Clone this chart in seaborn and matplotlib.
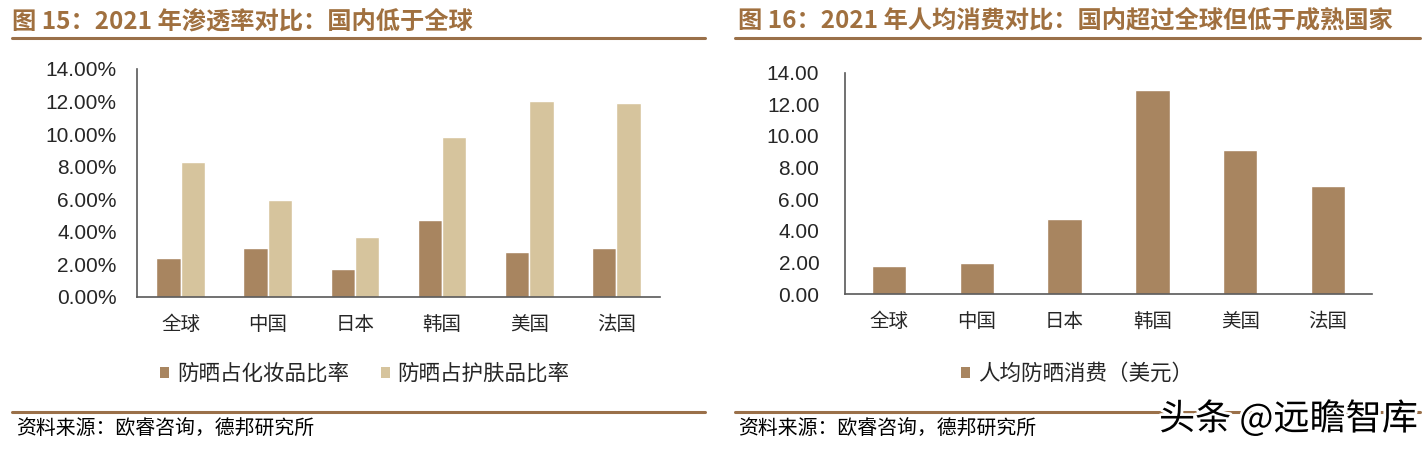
import matplotlib
matplotlib.use("Agg")
import matplotlib.pyplot as plt
import matplotlib.patheffects as pe
from matplotlib.lines import Line2D
from matplotlib.patches import Patch
import seaborn as sns
import pandas as pd

# ---------------- data ----------------
countries = ["全球", "中国", "日本", "韩国", "美国", "法国"]
series_names = ["防晒占化妆品比率", "防晒占护肤品比率"]
cosmetics_share = [2.40, 3.03, 1.72, 4.75, 2.78, 3.03]      # %
skincare_share = [8.31, 5.96, 3.66, 9.83, 12.02, 11.90]      # %
per_capita_name = "人均防晒消费（美元）"
per_capita = [1.77, 1.94, 4.75, 12.90, 9.11, 6.86]           # USD
left_ticks = [0, 2, 4, 6, 8, 10, 12, 14]
right_ticks = [0, 2, 4, 6, 8, 10, 12, 14]
title_left = "图 15：2021 年渗透率对比：国内低于全球"
title_right = "图 16：2021 年人均消费对比：国内超过全球但低于成熟国家"
source_text = "资料来源：欧睿咨询，德邦研究所"
watermark = "头条 @远瞻智库"

# ---------------- style ----------------
sns.set_style("white")
CJK = ["Noto Sans CJK SC", "DejaVu Sans"]
NUM = ["Liberation Sans", "DejaVu Sans"]
plt.rcParams["font.family"] = CJK

DARK = "#a88560"
LIGHT = "#d6c49d"
TITLE_C = "#a0703f"
LINE_C = "#9a7049"
AXIS_C = "#595959"

W, H = 1428, 450
fig = plt.figure(figsize=(W / 100, H / 100), dpi=100)

def px_axes(x0, x1, ytop, ybot):
    return fig.add_axes([x0 / W, 1 - ybot / H, (x1 - x0) / W, (ybot - ytop) / H])

axL = px_axes(137, 660, 69, 297)
axR = px_axes(845, 1372, 72.7, 294)

# ---------------- left chart ----------------
dfL = pd.DataFrame({
    "country": countries * 2,
    "value": cosmetics_share + skincare_share,
    "series": [series_names[0]] * len(countries) + [series_names[1]] * len(countries),
})
sns.barplot(data=dfL, x="country", y="value", hue="series", order=countries,
            hue_order=series_names, palette=[DARK, LIGHT], width=0.56, gap=0,
            saturation=1, errorbar=None, legend=False, ax=axL)

# ---------------- right chart ----------------
dfR = pd.DataFrame({"country": countries, "value": per_capita})
sns.barplot(data=dfR, x="country", y="value", order=countries, color=DARK,
            width=0.39, saturation=1, errorbar=None, ax=axR)

for ax, ticks, fmt in [(axL, left_ticks, "{:.2f}%"), (axR, right_ticks, "{:.2f}")]:
    ax.set_ylim(0, 14)
    ax.set_xlim(-0.5, len(countries) - 0.5)
    ax.set_yticks(ticks)
    ax.set_yticklabels([fmt.format(t) for t in ticks], fontfamily=NUM, fontsize=15)
    ax.set_xticks(range(len(countries)))
    ax.set_xticklabels(countries, fontfamily=CJK, fontsize=14)
    ax.set_xticks([i - 0.5 for i in range(len(countries) + 1)], minor=True)
    ax.tick_params(axis="x", which="major", length=0, pad=12)
    ax.tick_params(axis="x", which="minor", direction="in", length=5, width=1, color=AXIS_C)
    ax.tick_params(axis="y", direction="in", length=5, width=1, color=AXIS_C)
    ax.set_xlabel("")
    ax.set_ylabel("")
    for s in ["top", "right"]:
        ax.spines[s].set_visible(False)
    for s in ["left", "bottom"]:
        ax.spines[s].set_color(AXIS_C)
        ax.spines[s].set_linewidth(1.2)

axL.tick_params(axis="y", pad=14.5)
axR.tick_params(axis="y", pad=18.5)

# ---------------- legends ----------------
hL = [Patch(facecolor=DARK, edgecolor="none"), Patch(facecolor=LIGHT, edgecolor="none")]
fig.legend(hL, series_names, loc="center", bbox_to_anchor=(365 / W, 1 - 374 / H),
           ncol=2, frameon=False, prop={"family": CJK, "size": 15.5},
           handlelength=0.42, handleheight=0.42, handletextpad=0.35, columnspacing=1.5)
hR = [Patch(facecolor=DARK, edgecolor="none")]
fig.legend(hR, [per_capita_name], loc="center", bbox_to_anchor=(1077 / W, 1 - 374 / H),
           ncol=1, frameon=False, prop={"family": CJK, "size": 15.5},
           handlelength=0.42, handleheight=0.42, handletextpad=0.35)

# ---------------- titles, rules, source ----------------
fig.text(12 / W, 1 - 21 / H, title_left, ha="left", va="center", fontsize=17.5,
         fontweight="bold", color=TITLE_C, family=CJK)
fig.text(738 / W, 1 - 21 / H, title_right, ha="left", va="center", fontsize=17.5,
         fontweight="bold", color=TITLE_C, family=CJK)

for (x0, x1) in [(12, 705), (735, 1420)]:
    fig.add_artist(Line2D([x0 / W, x1 / W], [1 - 38 / H] * 2, color=LINE_C, lw=2.2,
                          transform=fig.transFigure))
    fig.add_artist(Line2D([x0 / W, x1 / W], [1 - 412 / H] * 2, color=LINE_C, lw=2.2,
                          transform=fig.transFigure))

fig.text(16 / W, 1 - 429 / H, source_text, ha="left", va="center", fontsize=14.3,
         color="black", family=CJK)
fig.text(738 / W, 1 - 429 / H, source_text, ha="left", va="center", fontsize=14.3,
         color="black", family=CJK)

fig.text(1418 / W, 1 - 419 / H, watermark, ha="right", va="center", fontsize=26,
         color="black", family=CJK,
         path_effects=[pe.withStroke(linewidth=4, foreground="white")])

fig.savefig("out.png", dpi=100)
